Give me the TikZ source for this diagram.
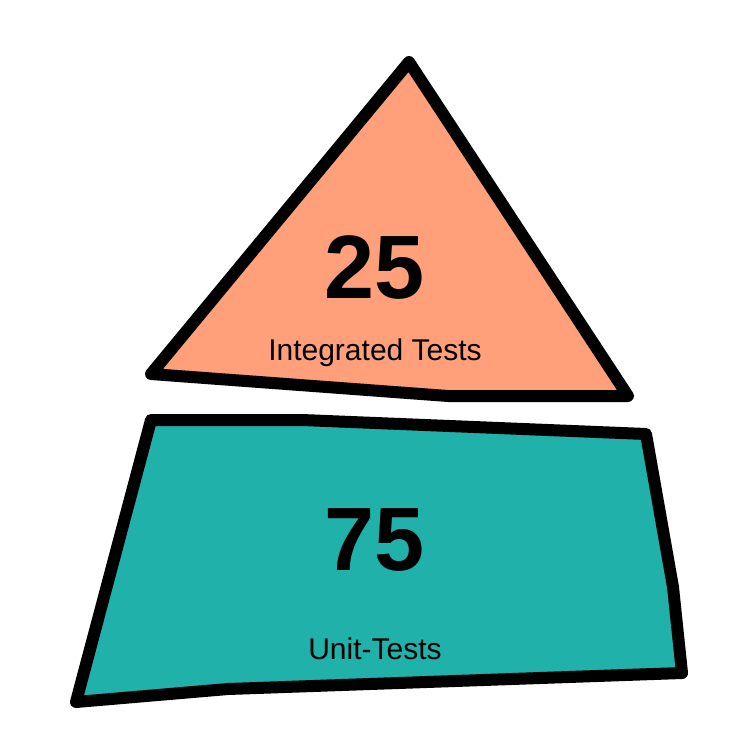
\documentclass[tikz,border=0pt]{standalone}
\usepackage{fontspec}
\setmainfont{Liberation Sans}
\definecolor{salmonfill}{HTML}{FFA07A}
\definecolor{tealfill}{HTML}{20B2AA}
\begin{document}
\begin{tikzpicture}[x=1pt,y=-1pt,
  shapeline/.style={draw=black,line width=12pt,line join=round,line cap=round},
  bignum/.style={font=\fontsize{90}{90}\selectfont\bfseries,inner sep=0pt,anchor=center},
  caption/.style={font=\fontsize{30}{30}\selectfont,inner sep=0pt,anchor=base}]
\useasboundingbox (0,0) rectangle (750,750);
\fill[white] (0,0) rectangle (750,750);
% triangle
\draw[shapeline,fill=salmonfill] (409,62) -- (628,396) -- (448,396) -- (151,374) -- cycle;
% quadrilateral
\draw[shapeline,fill=tealfill] (151,420) -- (302,420) -- (646,434) -- (673,587) -- (682,673) -- (228,689) -- (76,702) -- cycle;
\node[bignum] (n25) at (375,268) {25};
\node[caption] (t25) at (375,360) {Integrated Tests};
\node[bignum] (n75) at (375,540) {75};
\node[caption] (t75) at (375,659) {Unit-Tests};
\end{tikzpicture}
\end{document}
